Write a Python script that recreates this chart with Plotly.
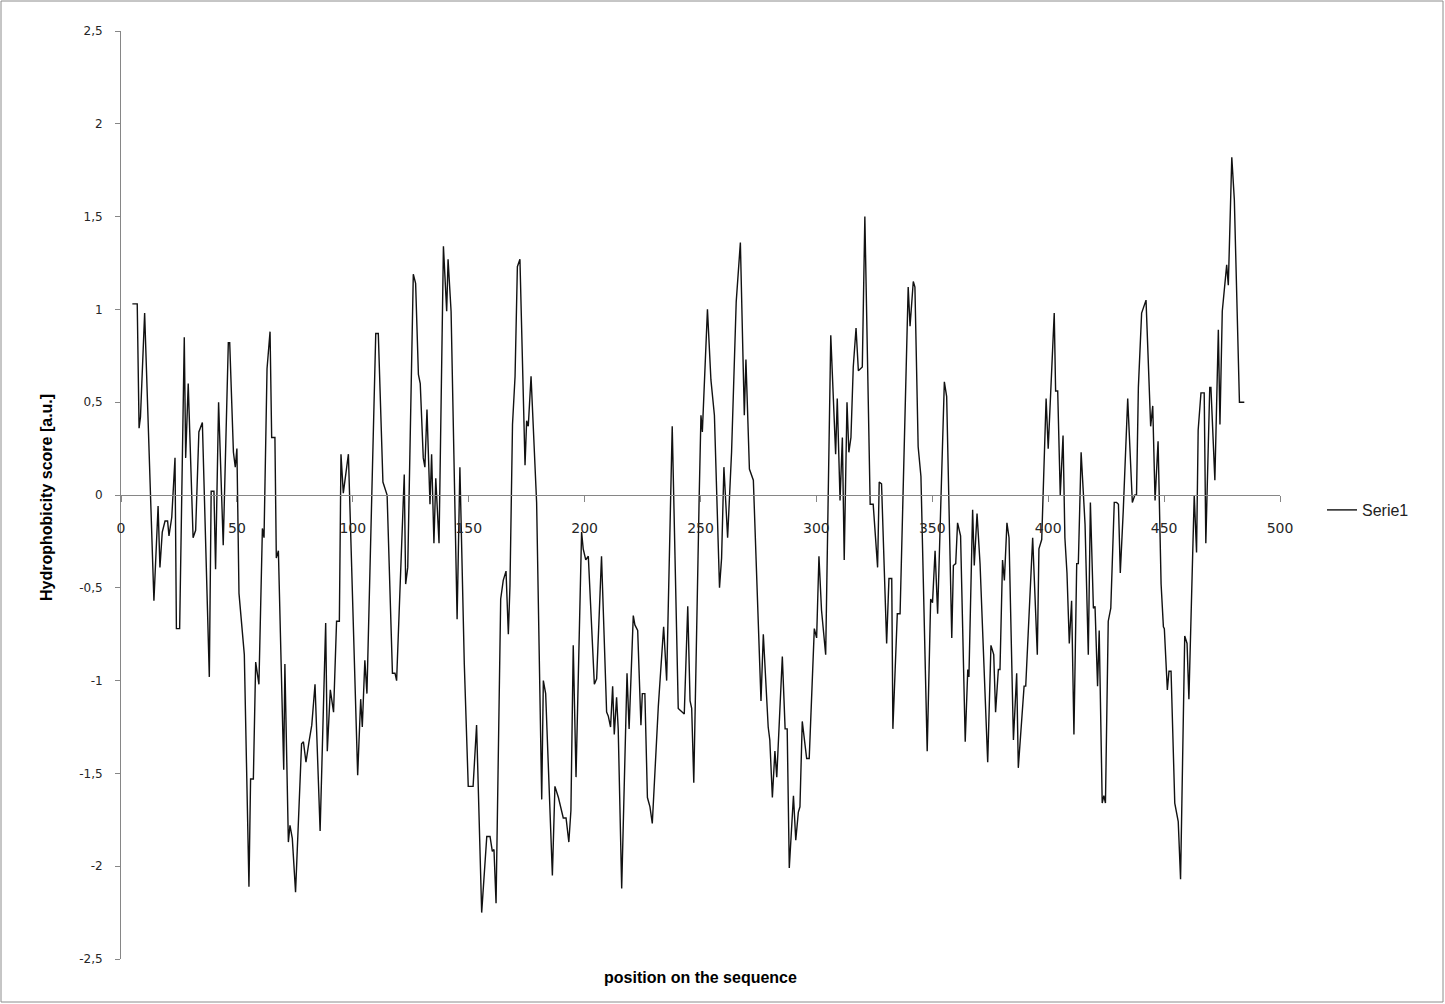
import plotly.graph_objects as go

position = [
    4.9, 7.0, 7.8, 8.4, 10.2, 14.2, 16.0, 16.8, 17.8, 19.0, 20.1, 20.7, 21.9, 23.3, 23.9, 25.3,
    27.3, 27.9, 29.0, 31.1, 32.2, 33.6, 35.1, 38.1, 38.9, 40.1, 40.8, 42.1, 44.1, 46.3, 46.9,
    48.5, 49.3, 50.0, 50.9, 53.2, 55.2, 55.9, 57.1, 58.1, 59.5, 61.0, 61.7, 63.0, 64.3, 65.0,
    66.4, 67.0, 67.9, 70.2, 70.7, 72.2, 72.9, 73.9, 75.3, 77.9, 78.7, 79.8, 81.1, 82.3, 83.7,
    85.9, 88.3, 89.0, 90.3, 91.7, 93.0, 94.2, 94.9, 95.9, 98.1, 102.1, 103.4, 104.1, 105.2,
    106.1, 109.9, 111.0, 113.0, 114.8, 117.1, 118.2, 118.9, 122.2, 122.8, 123.7, 126.1, 127.1,
    128.3, 129.1, 130.4, 131.1, 132.0, 133.3, 134.0, 135.0, 135.8, 137.2, 139.1, 140.5, 141.1,
    142.4, 145.0, 146.2, 148.1, 149.8, 151.9, 153.4, 155.6, 157.8, 159.2, 160.2, 160.9, 161.8,
    163.8, 164.9, 166.1, 167.1, 167.8, 168.9, 170.0, 171.0, 172.1, 174.3, 175.0, 175.7, 176.9,
    179.3, 181.5, 182.2, 183.2, 184.3, 186.1, 187.2, 188.7, 190.8, 192.0, 193.2, 194.1, 195.1,
    196.3, 198.7, 199.4, 200.5, 201.6, 204.2, 205.2, 207.3, 209.5, 210.2, 211.2, 212.1, 212.8,
    213.8, 214.5, 216.0, 218.3, 219.2, 221.0, 221.7, 222.9, 224.3, 224.9, 226.0, 227.1, 228.2,
    229.2, 231.8, 234.1, 235.4, 237.8, 240.4, 241.9, 243.0, 244.5, 245.5, 246.2, 247.1, 249.4,
    250.2, 250.8, 253.0, 254.5, 256.0, 258.2, 259.1, 260.1, 261.7, 263.4, 265.4, 267.2, 268.9,
    269.6, 271.1, 272.8, 276.1, 277.1, 279.2, 279.9, 281.0, 282.1, 282.9, 285.3, 286.5, 287.4,
    288.3, 290.1, 291.1, 292.2, 292.9, 293.9, 295.8, 296.9, 299.1, 300.1, 301.1, 302.2, 304.0,
    306.2, 308.3, 309.0, 310.2, 311.2, 312.0, 313.2, 314.0, 314.9, 315.9, 317.1, 318.1, 319.8,
    320.9, 323.2, 324.5, 326.4, 327.1, 328.1, 330.3, 331.3, 332.5, 333.0, 334.9, 336.1, 339.6,
    340.4, 341.8, 342.5, 343.9, 345.1, 347.8, 349.3, 350.1, 351.2, 352.3, 355.2, 356.2, 358.4,
    359.1, 360.1, 360.9, 362.2, 364.2, 365.3, 365.8, 367.4, 368.1, 369.3, 370.6, 373.9, 375.3,
    376.5, 377.3, 378.5, 379.2, 380.3, 381.1, 382.2, 383.1, 385.0, 386.4, 387.1, 389.6, 390.3,
    393.3, 395.3, 396.0, 397.2, 399.1, 400.0, 402.6, 403.2, 404.1, 405.2, 406.4, 407.2, 408.1,
    409.1, 410.1, 411.1, 412.3, 413.0, 414.2, 415.9, 417.3, 418.2, 419.5, 420.2, 421.3, 422.0,
    423.3, 424.0, 424.7, 425.9, 427.0, 428.5, 429.5, 430.3, 431.1, 432.4, 434.3, 436.3, 437.4,
    438.1, 438.9, 440.3, 442.2, 444.2, 445.1, 446.1, 447.4, 448.7, 449.7, 450.1, 451.4, 452.1,
    453.0, 454.6, 456.1, 457.1, 458.9, 459.9, 460.7, 463.0, 464.0, 464.7, 465.9, 467.3, 468.0,
    469.7, 470.2, 471.9, 473.4, 474.1, 475.1, 477.0, 477.7, 479.2, 480.3, 482.5, 484.6,
]

score = [
    1.03, 1.03, 0.36, 0.42, 0.98, -0.57, -0.06, -0.39, -0.20, -0.14, -0.14, -0.22, -0.12, 0.20, -0.72, -0.72,
    0.85, 0.20, 0.60, -0.23, -0.19, 0.34, 0.39, -0.98, 0.02, 0.02, -0.40, 0.50, -0.27, 0.82, 0.82,
    0.23, 0.15, 0.25, -0.53, -0.86, -2.11, -1.53, -1.53, -0.90, -1.02, -0.18, -0.23, 0.68, 0.88, 0.31,
    0.31, -0.34, -0.30, -1.48, -0.91, -1.87, -1.78, -1.85, -2.14, -1.34, -1.33, -1.44, -1.33, -1.24, -1.02,
    -1.81, -0.69, -1.38, -1.05, -1.17, -0.68, -0.68, 0.22, 0.01, 0.22, -1.51, -1.10, -1.25, -0.89,
    -1.07, 0.87, 0.87, 0.07, 0.00, -0.96, -0.96, -1.00, 0.11, -0.48, -0.39, 1.19, 1.14,
    0.65, 0.60, 0.20, 0.15, 0.46, -0.05, 0.22, -0.26, 0.09, -0.26, 1.34, 0.99, 1.27,
    0.99, -0.67, 0.15, -0.91, -1.57, -1.57, -1.24, -2.25, -1.84, -1.84, -1.92, -1.91, -2.20,
    -0.56, -0.46, -0.41, -0.75, -0.49, 0.38, 0.64, 1.23, 1.27, 0.16, 0.40, 0.37, 0.64,
    -0.04, -1.64, -1.00, -1.07, -1.48, -2.05, -1.57, -1.63, -1.74, -1.74, -1.87, -1.70, -0.81,
    -1.52, -0.20, -0.29, -0.35, -0.33, -1.02, -0.99, -0.33, -1.17, -1.19, -1.25, -1.03, -1.29,
    -1.09, -1.26, -2.12, -0.96, -1.26, -0.65, -0.70, -0.73, -1.24, -1.07, -1.07, -1.63, -1.68,
    -1.77, -1.14, -0.71, -1.00, 0.37, -1.15, -1.17, -1.18, -0.60, -1.11, -1.15, -1.55, -0.03,
    0.43, 0.34, 1.00, 0.62, 0.43, -0.50, -0.34, 0.15, -0.23, 0.23, 1.04, 1.36, 0.43,
    0.73, 0.14, 0.08, -1.11, -0.75, -1.25, -1.32, -1.63, -1.38, -1.52, -0.87, -1.26, -1.26,
    -2.01, -1.62, -1.86, -1.71, -1.68, -1.22, -1.42, -1.42, -0.72, -0.77, -0.33, -0.62, -0.86,
    0.86, 0.22, 0.52, -0.03, 0.31, -0.35, 0.50, 0.23, 0.31, 0.69, 0.90, 0.67, 0.69,
    1.50, -0.05, -0.05, -0.39, 0.07, 0.06, -0.80, -0.45, -0.45, -1.26, -0.64, -0.64, 1.12,
    0.91, 1.15, 1.12, 0.26, 0.10, -1.38, -0.56, -0.58, -0.30, -0.64, 0.61, 0.53, -0.77,
    -0.38, -0.37, -0.15, -0.22, -1.33, -0.94, -0.98, -0.08, -0.38, -0.10, -0.37, -1.44, -0.81,
    -0.86, -1.17, -0.94, -0.94, -0.35, -0.46, -0.15, -0.23, -1.32, -0.96, -1.47, -1.03, -1.03,
    -0.23, -0.86, -0.29, -0.24, 0.52, 0.25, 0.98, 0.56, 0.56, 0.00, 0.32, -0.23, -0.42,
    -0.80, -0.57, -1.29, -0.37, -0.37, 0.23, -0.16, -0.86, -0.04, -0.61, -0.60, -1.03, -0.73,
    -1.66, -1.62, -1.66, -0.68, -0.61, -0.04, -0.04, -0.05, -0.42, -0.08, 0.52, -0.04, 0.00,
    0.00, 0.58, 0.98, 1.05, 0.37, 0.48, -0.03, 0.29, -0.48, -0.71, -0.72, -1.05, -0.95,
    -0.95, -1.66, -1.76, -2.07, -0.76, -0.80, -1.10, 0.00, -0.31, 0.35, 0.55, 0.55, -0.26,
    0.58, 0.58, 0.08, 0.89, 0.38, 0.99, 1.24, 1.13, 1.82, 1.59, 0.50, 0.50,
]

y_tick_values = [2.5, 2, 1.5, 1, 0.5, 0, -0.5, -1, -1.5, -2, -2.5]
y_tick_labels = ["2,5", "2", "1,5", "1", "0,5", "0", "-0,5", "-1", "-1,5", "-2", "-2,5"]
x_tick_values = [0, 50, 100, 150, 200, 250, 300, 350, 400, 450, 500]

W, H = 1445, 1004
L, R, T, B = 121, 165, 31, 45
pw = W - L - R
ph = H - T - B

AXIS_COLOR = "#868686"
Y_TICK_FONT = dict(family="DejaVu Sans, Verdana, sans-serif", size=12, color="#262626")
X_TICK_FONT = dict(family="DejaVu Sans, Verdana, sans-serif", size=14, color="#262626")

fig = go.Figure()
fig.add_trace(go.Scatter(
    x=position, y=score, mode="lines", name="Serie1",
    line=dict(color="#111111", width=1.4),
))

fig.update_layout(
    width=W, height=H,
    margin=dict(l=L, r=R, t=T, b=B),
    paper_bgcolor="white", plot_bgcolor="white",
    showlegend=True,
    legend=dict(
        x=(1322 - L) / pw, y=(H - B - 510) / ph, xanchor="left", yanchor="middle",
        font=dict(family="Liberation Sans, Arial, sans-serif", size=16, color="#222222"),
        bgcolor="rgba(0,0,0,0)",
    ),
    xaxis=dict(
        range=[0, 500], tickvals=x_tick_values, ticktext=[str(v) for v in x_tick_values],
        showgrid=False, zeroline=False, showline=True, linecolor=AXIS_COLOR, linewidth=1,
        ticks="outside", ticklen=6, tickcolor=AXIS_COLOR,
        anchor="free", position=0.5, tickfont=X_TICK_FONT, ticklabelstandoff=14,
    ),
    yaxis=dict(
        range=[-2.5, 2.5], tickvals=y_tick_values, ticktext=y_tick_labels,
        showgrid=False, zeroline=False, showline=True, linecolor=AXIS_COLOR, linewidth=1,
        ticks="outside", ticklen=5, tickcolor=AXIS_COLOR, tickfont=Y_TICK_FONT,
        ticklabelstandoff=10,
    ),
    annotations=[
        dict(text="<b>Hydrophobicity score [a.u.]</b>", textangle=-90,
             xref="paper", yref="paper", x=(46 - L) / pw, y=(H - B - 498) / ph,
             xanchor="center", yanchor="middle", showarrow=False,
             font=dict(family="Liberation Sans, Arial, sans-serif", size=16, color="#000000")),
        dict(text="<b>position on the sequence</b>",
             xref="paper", yref="paper", x=(700 - L) / pw, y=(H - B - 977) / ph,
             xanchor="center", yanchor="middle", showarrow=False,
             font=dict(family="Liberation Sans, Arial, sans-serif", size=16, color="#000000")),
    ],
    shapes=[
        dict(type="rect", xref="paper", yref="paper",
             x0=(1 - L) / pw, x1=(W - 2 - L) / pw, y0=(H - B - (H - 2)) / ph, y1=(H - B - 1) / ph,
             line=dict(color="#8c8c8c", width=1), fillcolor="rgba(0,0,0,0)", layer="below"),
    ],
)

fig.write_html(
    "out.html",
    config={"displayModeBar": False},
    post_script="document.body.style.margin='0';document.body.style.overflow='hidden';",
)
